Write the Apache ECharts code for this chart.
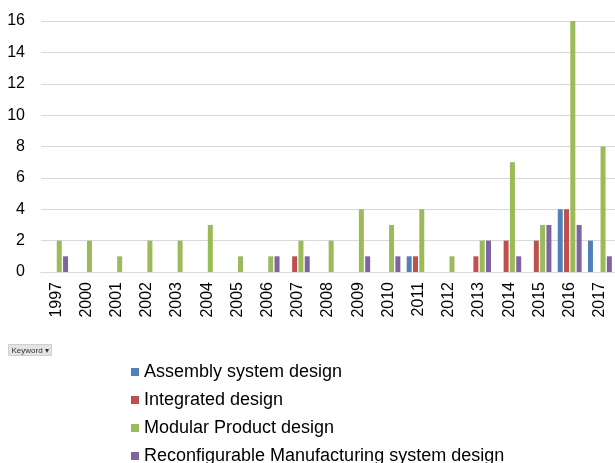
<!DOCTYPE html>
<html>
<head>
<meta charset="utf-8">
<script src="https://cdn.jsdelivr.net/npm/echarts@6/dist/echarts.min.js"></script>
<style>
  html, body { margin: 0; padding: 0; background: #fff; }
  #chart { width: 615px; height: 463px; }
</style>
</head>
<body>
<div id="chart"></div>
<script>
// Publication counts per year, by keyword
const years = ['1997', '2000', '2001', '2002', '2003', '2004', '2005', '2006', '2007', '2008',
               '2009', '2010', '2011', '2012', '2013', '2014', '2015', '2016', '2017'];
const assemblySystem  = [0, 0, 0, 0, 0, 0, 0, 0, 0, 0, 0, 0, 1, 0, 0, 0, 0, 4, 2];
const integrated      = [0, 0, 0, 0, 0, 0, 0, 0, 1, 0, 0, 0, 1, 0, 1, 2, 2, 4, 0];
const modularProduct  = [2, 2, 1, 2, 2, 3, 1, 1, 2, 2, 4, 3, 4, 1, 2, 7, 3, 16, 8];
const reconfigurable  = [1, 0, 0, 0, 0, 0, 0, 1, 1, 0, 1, 1, 0, 0, 2, 1, 3, 3, 1];
const seriesNames = ['Assembly system design', 'Integrated design', 'Modular Product design',
                     'Reconfigurable Manufacturing system design'];
const yTicks = { min: 0, max: 16, interval: 2 };

const colors = ['#4f81bd', '#c0504d', '#9bbb59', '#8064a2'];
const font = '"Liberation Sans", Arial, sans-serif';

const chart = echarts.init(document.getElementById('chart'), null, { renderer: 'canvas' });

const bar = (name, data, color) => ({
  name, type: 'bar', data,
  barWidth: 5, barGap: '26%',
  itemStyle: { color },
  emphasis: { disabled: true }
});

// one legend block per series, stacked in a single column below the plot
const legends = seriesNames.map((name, i) => ({
  orient: 'vertical', left: 126, top: 358 + i * 28,
  itemWidth: 8, itemHeight: 8, itemGap: 5,
  icon: 'rect',
  textStyle: { fontSize: 18, color: '#000', fontFamily: font },
  data: [name],
  selectedMode: false
}));

chart.setOption({
  animation: false,
  textStyle: { fontFamily: font },
  grid: { left: 41, top: 21, width: 577.6, height: 251, containLabel: false },
  xAxis: {
    type: 'category', data: years,
    axisLine: { lineStyle: { color: '#d9d9d9', width: 1 } },
    axisTick: { show: false },
    axisLabel: { rotate: 90, margin: 10, fontSize: 16, color: '#000', fontFamily: font, interval: 0 }
  },
  yAxis: {
    type: 'value', min: yTicks.min, max: yTicks.max, interval: yTicks.interval,
    axisLine: { show: false }, axisTick: { show: false },
    splitLine: { lineStyle: { color: '#d9d9d9', width: 1 } },
    axisLabel: { margin: 16, fontSize: 16, color: '#000', fontFamily: font }
  },
  legend: legends,
  graphic: [
    {
      type: 'group', left: 8, top: 344,
      children: [
        { type: 'rect', shape: { x: 0, y: 0, width: 43, height: 11 },
          style: { fill: '#e4e4e4', stroke: '#cfcfcf', lineWidth: 1 } },
        { type: 'text', x: 3, y: 2,
          style: { text: 'Keyword ▾', fontSize: 8, fill: '#333', fontFamily: font } }
      ]
    }
  ],
  series: [
    bar(seriesNames[0], assemblySystem, colors[0]),
    bar(seriesNames[1], integrated, colors[1]),
    bar(seriesNames[2], modularProduct, colors[2]),
    bar(seriesNames[3], reconfigurable, colors[3])
  ]
});
</script>
</body>
</html>
